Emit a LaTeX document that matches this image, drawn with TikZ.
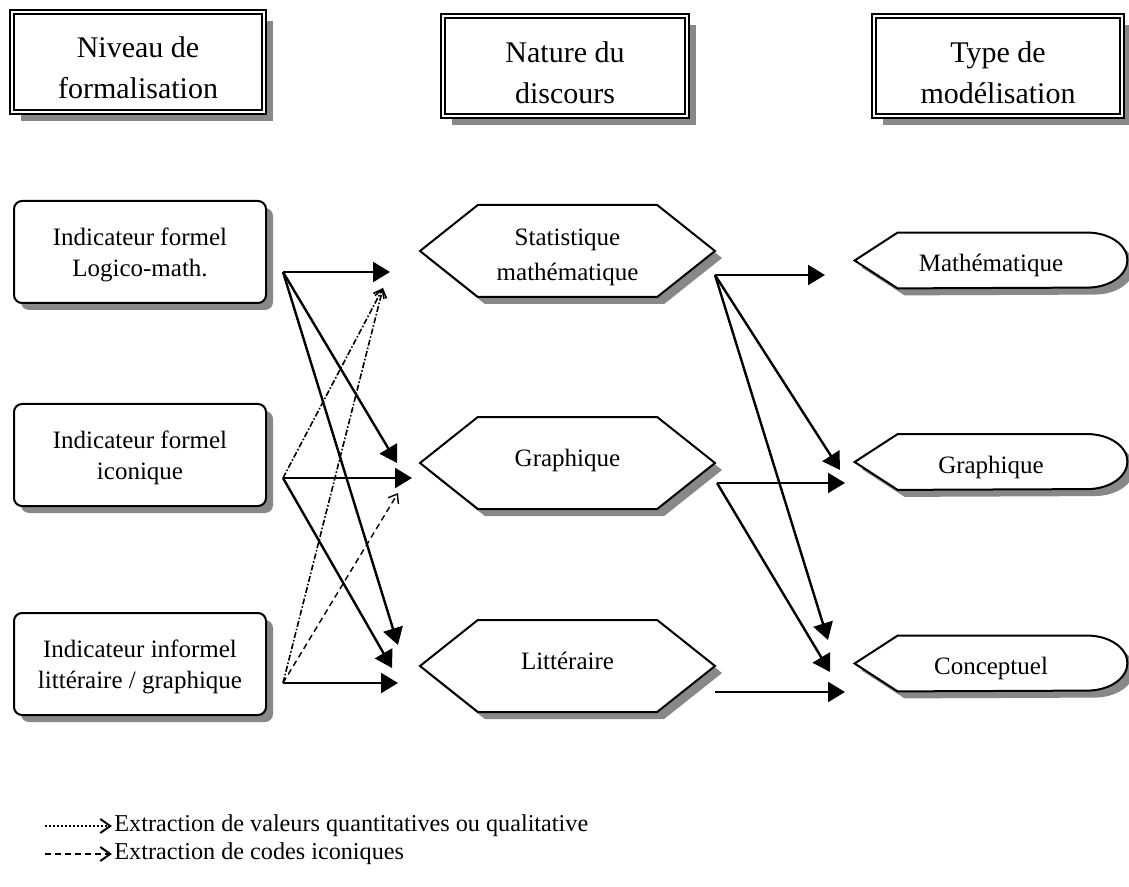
\documentclass[tikz,border=0pt]{standalone}
\usepackage{fontspec}
\setmainfont{Liberation Serif}
\usetikzlibrary{arrows.meta,positioning,shapes.symbols,shadows}
\definecolor{shade}{HTML}{888888}
\newcommand\tstrut[1]{\rule{0pt}{#1}}
\tikzset{
  shad/.style={drop shadow={shadow xshift=#1,shadow yshift=-#1,fill=shade,opacity=1}},
  shad/.default=3.5pt,
  hbox/.style={draw,line width=1pt,double,double distance=1.2pt,fill=white,align=center,
    minimum width=124pt,minimum height=50pt,inner sep=2pt,
    font=\fontsize{15}{20.5}\selectfont,shad=4.5pt},
  ibox/.style={draw,line width=1pt,fill=white,rounded corners=4pt,align=center,
    minimum width=126pt,minimum height=51pt,inner sep=2pt,
    font=\fontsize{12.5}{15.5}\selectfont,shad},
  dhex/.style={signal,signal to=west and east,signal pointer angle=77,draw,line width=1pt,
    fill=white,align=center,minimum width=147.5pt,minimum height=46pt,inner sep=2pt,
    font=\fontsize{12.5}{17.5}\selectfont,shad},
  mtxt/.style={minimum width=136pt,minimum height=27.5pt,inner sep=0pt,
    font=\fontsize{12.5}{15}\selectfont},
  mshape/.style={draw,line width=1pt,fill=white,shad},
  arr/.style={-{Triangle[length=8.5pt,width=10pt]},line width=1.2pt},
  varr/.style={-{Straight Barb[length=4pt,width=6pt]},line width=0.8pt,densely dashdotted},
  carr/.style={-{Straight Barb[length=4pt,width=6pt]},line width=0.7pt,dash pattern=on 3pt off 2pt},
  legtxt/.style={anchor=west,inner sep=1pt,font=\fontsize{12.1}{14}\selectfont}
}
\newcommand\modpath[1]{(#1.west) -- ([xshift=21.5pt]#1.north west) -- ([xshift=-20pt]#1.north east)
  arc[start angle=90,end angle=-90,x radius=20pt,y radius=13.75pt]
  -- ([xshift=21.5pt]#1.south west) -- cycle}

\begin{document}
\begin{tikzpicture}[x=0.5pt,y=-0.5pt]
  \useasboundingbox (0,0) rectangle (1129,887);
  % headers
  \node[hbox,minimum width=126pt] (hN) at (138,62) {\tstrut{16pt}Niveau de\\formalisation};
  \node[hbox,minimum width=122pt] (hD) at (565,66) {\tstrut{17pt}Nature du\\discours};
  \node[hbox] (hT) at (998,66) {\tstrut{17pt}Type de\\modélisation};
  % indicateurs
  \node[ibox] (iA) at (140,252) {\tstrut{11.5pt}Indicateur formel\\Logico-math.};
  \node[ibox] (iB) at (140,455) {\tstrut{11.5pt}Indicateur formel\\iconique};
  \node[ibox] (iC) at (140,664) {\tstrut{11.5pt}Indicateur informel\\littéraire / graphique};
  % discours
  \node[dhex] (dS) at (567.5,251) {\tstrut{14.5pt}Statistique\\mathématique};
  \node[dhex,text depth=5.5pt] (dG) at (567.5,463) {Graphique};
  \node[dhex,text depth=5.5pt] (dL) at (567.5,666) {Littéraire};
  % modelisation
  \node[mtxt] (mM) at (991,260.5) {};
  \node[mtxt] (mG) at (991,462) {};
  \node[mtxt] (mC) at (991,663.5) {};
  \foreach \n in {mM,mG,mC}
    \draw[mshape] \modpath{\n};
  \node[mtxt] at ([yshift=-2.5pt]mM.center) {Mathématique};
  \node[mtxt] at ([yshift=-2.5pt]mG.center) {Graphique};
  \node[mtxt] at ([yshift=-2.5pt]mC.center) {Conceptuel};
  % start and end points
  \coordinate (a1) at (283,272);
  \coordinate (b1) at (283,478);
  \coordinate (c1) at (283,683);
  \coordinate (s1) at (715,275);
  \coordinate (g1) at (717,483);
  \coordinate (l1) at (715,692);
  \coordinate (t1) at (390,272);
  \coordinate (t2) at (383,288);
  \coordinate (t3) at (397,463);
  \coordinate (t4) at (412,478);
  \coordinate (t5) at (398,493);
  \coordinate (t6) at (398,645);
  \coordinate (t7) at (392,668);
  \coordinate (t8) at (398,683);
  \coordinate (u1) at (825,275);
  \coordinate (u2) at (840,470);
  \coordinate (u3) at (845,483);
  \coordinate (u4) at (828,640);
  \coordinate (u5) at (830,672);
  \coordinate (u6) at (845,692);
  % arrows
  \draw[arr] (a1) -- (t1);
  \draw[arr] (a1) -- (t3);
  \draw[arr] (a1) -- (t6);
  \draw[arr] (b1) -- (t4);
  \draw[arr] (b1) -- (t7);
  \draw[arr] (c1) -- (t8);
  \draw[varr] (b1) -- (t2);
  \draw[varr] (c1) -- (t2);
  \draw[carr] (c1) -- (t5);
  \draw[arr] (s1) -- (u1);
  \draw[arr] (s1) -- (u2);
  \draw[arr] (s1) -- (u4);
  \draw[arr] (g1) -- (u3);
  \draw[arr] (g1) -- (u5);
  \draw[arr] (l1) -- (u6);
  % legende
  \node[legtxt] (lgV) at (112,826) {Extraction de valeurs quantitatives ou qualitative};
  \node[legtxt] (lgC) at (112,854) {Extraction de codes iconiques};
  \coordinate (lv) at (45,826);
  \coordinate (lc) at (45,854);
  \draw[varr,line width=1pt,densely dotted,-{Straight Barb[length=5pt,width=7pt]}] (lv) -- (lgV.west);
  \draw[carr,line width=1pt,-{Straight Barb[length=5pt,width=7pt]}] (lc) -- (lgC.west);
\end{tikzpicture}
\end{document}
